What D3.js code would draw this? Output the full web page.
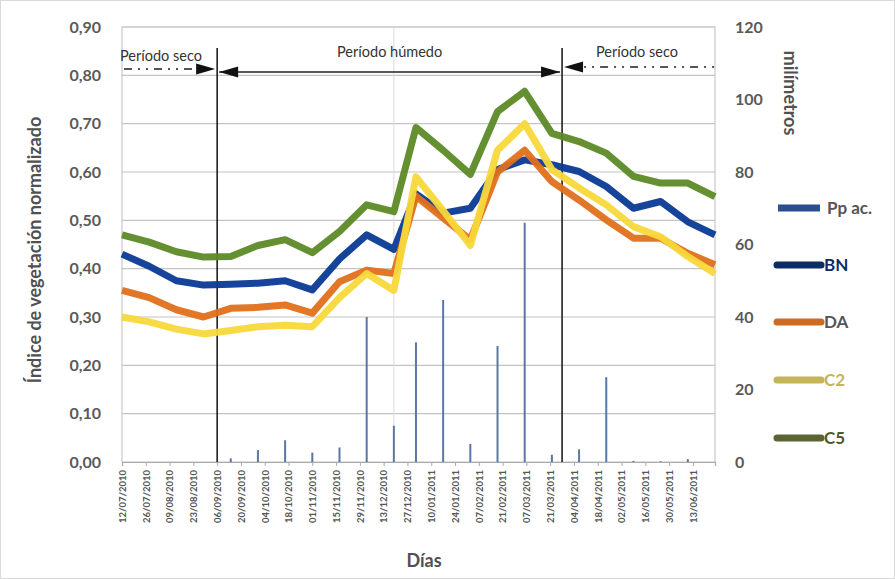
<!DOCTYPE html>
<html>
<head>
<meta charset="utf-8">
<script src="https://cdn.jsdelivr.net/npm/d3@7"></script>
<style>
  body { margin: 0; background: #fff; }
  svg text { font-family: Lato, "Liberation Sans", sans-serif; }
</style>
</head>
<body>
<div id="chart"></div>
<script>
// 16-day composite dates (dd/mm/yyyy)
var compositeDates = ["12/07/2010", "28/07/2010", "13/08/2010", "29/08/2010", "14/09/2010", "30/09/2010",
  "16/10/2010", "01/11/2010", "17/11/2010", "03/12/2010", "19/12/2010", "01/01/2011", "17/01/2011",
  "02/02/2011", "18/02/2011", "06/03/2011", "22/03/2011", "07/04/2011", "23/04/2011", "09/05/2011",
  "25/05/2011", "10/06/2011", "26/06/2011"];

// NDVI series
var ndviBN = [0.43, 0.405, 0.375, 0.366, 0.368, 0.37, 0.375, 0.356, 0.42, 0.47, 0.44, 0.555, 0.515,
  0.525, 0.605, 0.625, 0.615, 0.601, 0.57, 0.525, 0.539, 0.497, 0.47];
var ndviDA = [0.355, 0.34, 0.315, 0.30, 0.318, 0.32, 0.325, 0.308, 0.373, 0.397, 0.39, 0.55, 0.505,
  0.46, 0.60, 0.645, 0.58, 0.542, 0.501, 0.463, 0.463, 0.432, 0.408];
var ndviC2 = [0.30, 0.29, 0.275, 0.265, 0.272, 0.28, 0.283, 0.28, 0.34, 0.39, 0.355, 0.59, 0.52,
  0.448, 0.645, 0.70, 0.605, 0.567, 0.532, 0.487, 0.466, 0.425, 0.39];
var ndviC5 = [0.47, 0.455, 0.435, 0.424, 0.425, 0.448, 0.46, 0.433, 0.477, 0.532, 0.518, 0.692, 0.645,
  0.595, 0.725, 0.767, 0.68, 0.663, 0.639, 0.591, 0.577, 0.577, 0.549];

// accumulated rainfall per composite (mm)
var rainMm = [0, 0, 0, 0, 1, 3.3, 6, 2.6, 4, 40, 10, 33, 44.7, 5, 32, 66, 2, 3.5, 23.4, 0.3, 0.2, 0.8, 0];

// x tick labels (every 14 days)
var tickLabels = ["12/07/2010", "26/07/2010", "09/08/2010", "23/08/2010", "06/09/2010", "20/09/2010",
  "04/10/2010", "18/10/2010", "01/11/2010", "15/11/2010", "29/11/2010", "13/12/2010", "27/12/2010",
  "10/01/2011", "24/01/2011", "07/02/2011", "21/02/2011", "07/03/2011", "21/03/2011", "04/04/2011",
  "18/04/2011", "02/05/2011", "16/05/2011", "30/05/2011", "13/06/2011"];

var leftTicks = [0, 0.1, 0.2, 0.3, 0.4, 0.5, 0.6, 0.7, 0.8, 0.9];
var rightTicks = [0, 20, 40, 60, 80, 100, 120];

// period boundaries and the faint reference line
var periodMarks = ["06/09/2010", "28/03/2011"];
var faintMarks = ["19/12/2010"];

var seriesNames = ["BN", "DA", "C2", "C5"];
var seriesValues = [ndviBN, ndviDA, ndviC2, ndviC5];
var lineColors = ["#0a3a96", "#e2701c", "#f7d83a", "#5c8a26"];
var legendColors = ["#0c2c66", "#cf6a22", "#c4b45a", "#5b6534"];
var legendTextColors = ["#0c2c66", "#555555", "#c4b45a", "#4e5a2a"];

var parseDate = d3.timeParse("%d/%m/%Y");

var W = 895, H = 579;
var svg = d3.select("#chart").append("svg")
  .attr("width", W)
  .attr("height", H);

svg.append("rect")
  .attr("x", 0.5).attr("y", 0.5)
  .attr("width", W - 1).attr("height", H - 1)
  .attr("fill", "#fff")
  .attr("stroke", "#d9d9d9");

var plotLeft = 122, plotRight = 715, plotTop = 27, plotBottom = 462;

var x = d3.scaleTime()
  .domain([parseDate(compositeDates[0]), parseDate(compositeDates[compositeDates.length - 1])])
  .range([plotLeft, plotRight]);
var y = d3.scaleLinear().domain([0, 0.9]).range([plotBottom, plotTop]);
var y2 = d3.scaleLinear().domain([0, 120]).range([plotBottom, plotTop]);

// gridlines
svg.append("g")
  .selectAll("line")
  .data(leftTicks)
  .enter()
  .append("line")
    .attr("x1", plotLeft).attr("x2", plotRight)
    .attr("y1", function(d) { return y(d); })
    .attr("y2", function(d) { return y(d); })
    .attr("stroke", "#c4c4c4")
    .attr("stroke-width", 1.2);

// plot border (left + right + top)
svg.append("path")
  .attr("d", "M" + plotLeft + "," + plotBottom + "V" + plotTop + "H" + plotRight + "V" + plotBottom)
  .attr("fill", "none")
  .attr("stroke", "#c8c8c8")
  .attr("stroke-width", 1.2);

// faint vertical line
svg.selectAll(".faint")
  .data(faintMarks)
  .enter()
  .append("line")
    .attr("class", "faint")
    .attr("x1", function(d) { return x(parseDate(d)); })
    .attr("x2", function(d) { return x(parseDate(d)); })
    .attr("y1", plotTop).attr("y2", plotBottom)
    .attr("stroke", "#dcdcdc");

// rainfall bars
svg.append("g")
  .selectAll("rect")
  .data(rainMm)
  .enter()
  .append("rect")
    .attr("x", function(d, i) { return x(parseDate(compositeDates[i])) - 1; })
    .attr("y", function(d) { return y2(d); })
    .attr("width", 2)
    .attr("height", function(d) { return plotBottom - y2(d); })
    .attr("fill", "#5a78a4");

// x axis
var xAxis = svg.append("g")
  .attr("transform", "translate(0," + plotBottom + ")")
  .call(d3.axisBottom(x)
    .tickValues(tickLabels.map(parseDate))
    .tickSize(4)
    .tickFormat(d3.timeFormat("%d/%m/%Y")));
xAxis.select(".domain").attr("stroke", "#aaaaaa").attr("stroke-width", 1.2);
xAxis.selectAll(".tick line").attr("stroke", "#aaaaaa");
xAxis.selectAll("text")
  .attr("transform", "rotate(-90)")
  .attr("text-anchor", "end")
  .attr("x", -8)
  .attr("y", 0)
  .attr("dy", "0.35em")
  .attr("fill", "#555")
  .attr("font-size", 9.5)
  .attr("font-weight", "bold");

// left axis labels
var fmt = d3.format(".2f");
svg.append("g")
  .selectAll("text")
  .data(leftTicks)
  .enter()
  .append("text")
    .attr("x", 101)
    .attr("y", function(d) { return y(d); })
    .attr("dy", "0.35em")
    .attr("text-anchor", "end")
    .attr("font-size", 16)
    .attr("font-weight", "bold")
    .attr("fill", "#595959")
    .text(function(d) { return fmt(d).replace(".", ","); });

// right axis labels
svg.append("g")
  .selectAll("text")
  .data(rightTicks)
  .enter()
  .append("text")
    .attr("x", 735)
    .attr("y", function(d) { return y2(d); })
    .attr("dy", "0.35em")
    .attr("font-size", 16)
    .attr("font-weight", "bold")
    .attr("fill", "#595959")
    .text(function(d) { return d; });

// period marker lines
svg.selectAll(".period")
  .data(periodMarks)
  .enter()
  .append("line")
    .attr("class", "period")
    .attr("x1", function(d) { return x(parseDate(d)); })
    .attr("x2", function(d) { return x(parseDate(d)); })
    .attr("y1", 48).attr("y2", plotBottom)
    .attr("stroke", "#111")
    .attr("stroke-width", 1.5);

// NDVI lines
var line = d3.line()
  .x(function(d, i) { return x(parseDate(compositeDates[i])); })
  .y(function(d) { return y(d); });

svg.append("g")
  .selectAll("path")
  .data(seriesValues)
  .enter()
  .append("path")
    .attr("d", function(d) { return line(d); })
    .attr("fill", "none")
    .attr("stroke", function(d, i) { return lineColors[i]; })
    .attr("stroke-width", 7)
    .attr("stroke-linejoin", "round")
    .attr("stroke-opacity", 0.95);

// annotations
var xa = x(parseDate(periodMarks[0])), xb = x(parseDate(periodMarks[1]));
function arrowHead(tipX, tipY, dir) {
  var b = tipX - dir * 19;
  return "M" + tipX + "," + tipY + "L" + b + "," + (tipY - 5.5) + "L" + b + "," + (tipY + 5.5) + "Z";
}
svg.append("line")
  .attr("x1", xa + 2).attr("x2", xb - 2)
  .attr("y1", 72).attr("y2", 72)
  .attr("stroke", "#222").attr("stroke-width", 1.5);
svg.append("path").attr("d", arrowHead(xa + 2, 72, -1)).attr("fill", "#111");
svg.append("path").attr("d", arrowHead(xb - 2, 72, 1)).attr("fill", "#111");
svg.append("path").attr("d", arrowHead(xa - 2, 69, 1)).attr("fill", "#111");
svg.append("path").attr("d", arrowHead(xb + 2, 67, -1)).attr("fill", "#111");

svg.append("line")
  .attr("x1", plotLeft + 2).attr("x2", xa - 20)
  .attr("y1", 69).attr("y2", 69)
  .attr("stroke", "#555").attr("stroke-width", 2)
  .attr("stroke-dasharray", "8,6,2,6,2,6");
svg.append("line")
  .attr("x1", xb + 22).attr("x2", plotRight)
  .attr("y1", 67).attr("y2", 67)
  .attr("stroke", "#555").attr("stroke-width", 2)
  .attr("stroke-dasharray", "2,6,2,6,8,6");

svg.append("text")
  .attr("x", 120).attr("y", 61)
  .attr("font-size", 14.5).attr("fill", "#333")
  .text("Período seco");
svg.append("text")
  .attr("x", (xa + xb) / 2).attr("y", 57)
  .attr("text-anchor", "middle")
  .attr("font-size", 14.5).attr("fill", "#333")
  .text("Período húmedo");
svg.append("text")
  .attr("x", 596).attr("y", 57)
  .attr("font-size", 14.5).attr("fill", "#333")
  .text("Período seco");

// axis titles
svg.append("text")
  .attr("transform", "translate(41,250) rotate(-90)")
  .attr("text-anchor", "middle")
  .attr("font-size", 18).attr("font-weight", "bold").attr("fill", "#505050")
  .text("Índice de vegetación normalizado");
svg.append("text")
  .attr("transform", "translate(784,93) rotate(90)")
  .attr("text-anchor", "middle")
  .attr("font-size", 18).attr("font-weight", "bold").attr("fill", "#505050")
  .text("milímetros");
svg.append("text")
  .attr("x", 424).attr("y", 567)
  .attr("text-anchor", "middle")
  .attr("font-size", 18).attr("font-weight", "bold").attr("fill", "#505050")
  .text("Días");

// legend
var legendY = [208, 265, 322, 380, 438];
svg.append("rect")
  .attr("x", 778).attr("y", legendY[0] - 3.5)
  .attr("width", 42).attr("height", 7)
  .attr("fill", "#2a4e8e");
svg.append("text")
  .attr("x", 827).attr("y", legendY[0])
  .attr("dy", "0.35em")
  .attr("font-size", 17).attr("font-weight", "bold").attr("fill", "#555")
  .text("Pp ac.");

var legendItems = svg.selectAll(".legend-item")
  .data(seriesNames)
  .enter()
  .append("g")
    .attr("class", "legend-item")
    .attr("transform", function(d, i) { return "translate(0," + legendY[i + 1] + ")"; });
legendItems.append("line")
  .attr("x1", 777).attr("x2", 821)
  .attr("stroke", function(d, i) { return legendColors[i]; })
  .attr("stroke-width", 7)
  .attr("stroke-linecap", "round");
legendItems.append("text")
  .attr("x", 824)
  .attr("dy", "0.35em")
  .attr("font-size", 17)
  .attr("font-weight", "bold")
  .attr("fill", function(d, i) { return legendTextColors[i]; })
  .text(function(d) { return d; });
</script>
</body>
</html>
